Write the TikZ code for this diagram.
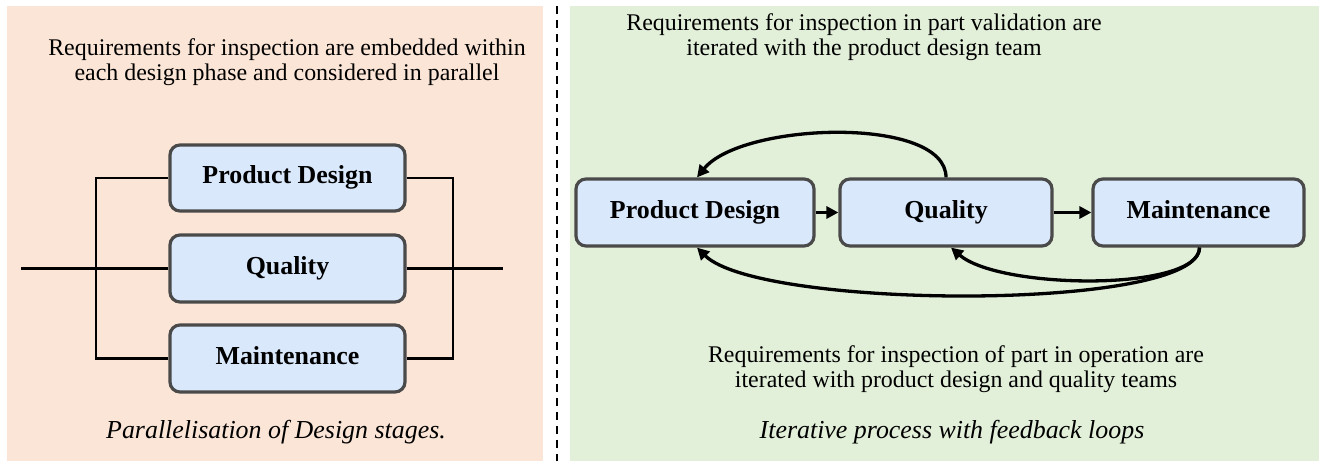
\documentclass[tikz,border=0pt]{standalone}
\usepackage{fontspec}
\setmainfont{Liberation Serif}
\usetikzlibrary{arrows.meta}
\definecolor{peach}{HTML}{FBE5D6}
\definecolor{mint}{HTML}{E2EFD9}
\definecolor{boxfill}{HTML}{DAE8FC}
\definecolor{boxline}{HTML}{4A4A4A}
\tikzset{
  stagebox/.style={draw=boxline, line width=3.2bp, fill=boxfill, rounded corners=10bp,
    font=\fontsize{26}{28}\selectfont\bfseries, inner sep=0pt, text height=17bp, text depth=5bp},
  bodytext/.style={font=\fontsize{24}{25.5}\selectfont, align=center, inner sep=0pt},
  captext/.style={font=\fontsize{26}{28}\selectfont\itshape, inner sep=0pt},
  wire/.style={line width=2.3bp, black},
  flow/.style={line width=3.3bp, black, -{Triangle[length=12bp,width=12bp]}},
}
\begin{document}
\begin{tikzpicture}[x=1bp,y=-1bp]
\useasboundingbox[fill=white] (0,0) rectangle (1322,461);
% panels
\fill[peach] (7,6) rectangle (543,461);
\fill[mint] (570,6) rectangle (1319,461);
\draw[line width=1.5bp, dash pattern=on 8bp off 6bp] (557,6) -- (557,461);

% left panel
\node[bodytext] (lt) at (287,62) {Requirements for inspection are embedded within\\each design phase and considered in parallel};
\node[stagebox, minimum width=235bp, minimum height=66bp] (lpd) at (287.5,178) {Product Design};
\node[stagebox, minimum width=235bp, minimum height=67bp] (lq) at (287.5,268.5) {Quality};
\node[stagebox, minimum width=235bp, minimum height=67bp] (lm) at (287.5,358.5) {Maintenance};
\coordinate (inL) at (21,268.5);
\coordinate (jl) at (96,268.5);
\coordinate (jr) at (453,268.5);
\coordinate (outR) at (503,268.5);
\draw[wire] (inL) -- (lq.west);
\draw[wire] (lpd.west) -| (jl) |- (lm.west);
\draw[wire] (lpd.east) -| (jr) |- (lm.east);
\draw[wire] (lq.east) -- (outR);
\node[captext] (lc) at (276,432) {Parallelisation of Design stages.};

% right panel
\node[bodytext] (rt) at (864,37) {Requirements for inspection in part validation are\\iterated with the product design team};
\node[stagebox, minimum width=238bp, minimum height=67bp] (rpd) at (695,212.5) {Product Design};
\node[stagebox, minimum width=212bp, minimum height=67bp] (rq) at (946,212.5) {Quality};
\node[stagebox, minimum width=211bp, minimum height=67bp] (rm) at (1198.5,212.5) {Maintenance};
\draw[flow] (rpd.east) -- (rq.west);
\draw[flow] (rq.east) -- (rm.west);
\draw[flow] (rq.north) .. controls ++(0,-62) and (742,122) .. ([xshift=2bp]rpd.north);
\draw[flow] ([xshift=1bp]rm.south) .. controls ++(0,44) and (1000,290) .. ([xshift=5bp]rq.south);
\draw[flow] ([xshift=1bp]rm.south) .. controls ++(0,64) and (760,310) .. ([xshift=2bp]rpd.south);
\node[bodytext] (rb) at (956,369) {Requirements for inspection of part in operation are\\iterated with product design and quality teams};
\node[captext] (rc) at (952,432) {Iterative process with feedback loops};
\end{tikzpicture}
\end{document}
